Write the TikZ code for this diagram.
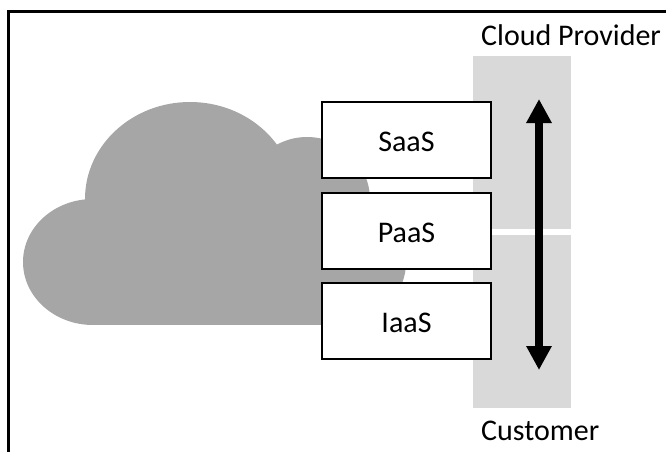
\documentclass[tikz,border=0pt]{standalone}
\usepackage{fontspec}
\setmainfont{Carlito}
\usetikzlibrary{arrows.meta}
\begin{document}
\begin{tikzpicture}[x=1pt,y=-1pt,
		layer/.style={draw=black,line width=2pt,fill=white,minimum width=169pt,minimum height=76pt,inner sep=0pt,text height=22pt,text depth=0pt,font=\fontsize{30}{34}\selectfont},
		band/.style={fill=gray!30,draw=none,minimum width=98pt,minimum height=173pt,inner sep=0pt},
		side/.style={anchor=base west,inner sep=0pt,font=\fontsize{30}{34}\selectfont}]
		\useasboundingbox (0,0) rectangle (666,452);
		\draw[line width=2.4pt] (666,11.5) -- (8.5,11.5) -- (8.5,452);
		% cloud
		\fill[gray!70] (93,262) ellipse (70pt and 63pt);
		\fill[gray!70] (190,199) ellipse (105pt and 97pt);
		\fill[gray!70] (307,200) ellipse (63pt and 63pt);
		\fill[gray!70] (338,262) ellipse (68pt and 63pt);
		\fill[gray!70] (93,199) rectangle (338,325);
		\node[band] (cloud_band) at (522,142.75) {};
		\node[band] (customer_band) at (522,321) {};
		\node[layer] (saas) at (406.5,140) {SaaS};
		\node[layer] (paas) at (406.5,231) {PaaS};
		\node[layer] (iaas) at (406.5,321) {IaaS};
		\node[side] (provider) at (481,46) {Cloud Provider};
		\node[side] (customer) at (481,440.5) {Customer};
		\coordinate (top) at (539,99);
		\coordinate (bottom) at (539,370);
		\draw[{Triangle[width=24pt,length=24pt]}-{Triangle[width=24pt,length=24pt]},line width=8pt] (top) -- (bottom);
\end{tikzpicture}
\end{document}
